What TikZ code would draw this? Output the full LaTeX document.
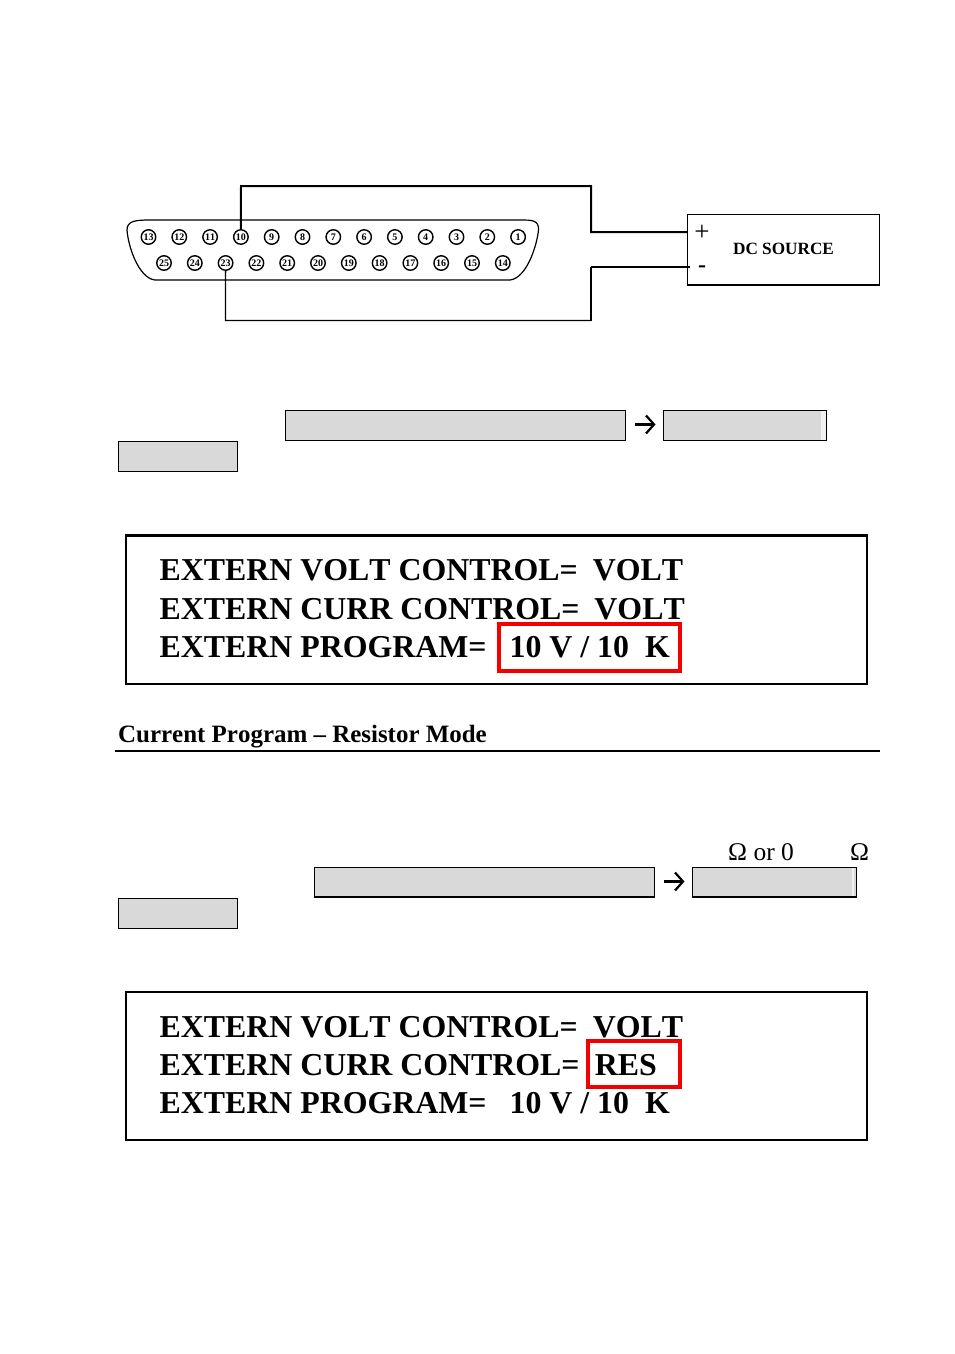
\documentclass[tikz,border=0pt]{standalone}
\usepackage{fontspec}
\setmainfont[Kerning=Off]{Liberation Serif}
\usetikzlibrary{arrows.meta,calc}
\tikzset{
  x=1pt,y=-1pt,
  pin/.style={circle,draw=black,line width=1.4pt,minimum size=14.5pt,inner sep=0pt,font=\bfseries\fontsize{10}{10}\selectfont},
  wirethick/.style={line width=2pt,black},
  wirethin/.style={line width=1.3pt,black},
  graybox/.style={draw=black,line width=1.2pt,fill=grayfill,anchor=north west,inner sep=0pt,outer sep=0pt},
  dispbox/.style={draw=black,line width=1.8pt,anchor=north west,inner sep=0pt,outer sep=0pt,minimum width=741pt,minimum height=149pt},
  disptext/.style={anchor=base west,inner sep=0pt,font=\bfseries\fontsize{31.85}{31.85}\selectfont},
  redbox/.style={draw=redframe,line width=4.2pt,anchor=north west,inner sep=0pt,outer sep=0pt},
  stripe/.style={fill=stripefill,draw=none},
  flowarrow/.style={line width=2.2pt,-{Straight Barb[length=8pt,width=18pt,line width=2.2pt]}}
}
\definecolor{grayfill}{HTML}{D9D9D9}
\definecolor{stripefill}{HTML}{F0F0F0}
\definecolor{redframe}{HTML}{F40000}
\begin{document}
\begin{tikzpicture}
\useasboundingbox (0,0) rectangle (954,1354);
\fill[white] (0,0) rectangle (954,1354);
% connector shell
\draw[line width=1.2pt,line join=round]
  (150,220) -- (520,220)
  .. controls (532,220) and (539,220) .. (538.5,230)
  .. controls (537,245) and (527,278) .. (510,280)
  -- (155,280)
  .. controls (138,278) and (128,245) .. (127,230)
  .. controls (127,221) and (135,220) .. (150,220) -- cycle;
% pins
\foreach \n [count=\i from 0] in {13,12,...,1}
  \node[pin,fill=white] (p\n) at ({148.5+30.8*\i},237) {\n};
\foreach \n [count=\i from 0] in {25,24,...,14}
  \node[pin,fill=white] (p\n) at ({164+30.8*\i},263) {\n};
% source
\node[draw=black,line width=1.2pt,anchor=north west,inner sep=0pt,outer sep=0pt,minimum width=192pt,minimum height=70.5pt] (src) at (687.5,214.5) {};
\draw[black,line width=1.2pt] (687,285) -- (880,285);
\node[anchor=center,inner sep=0pt,font=\bfseries\fontsize{17.2}{17.2}\selectfont] (srclabel) at (783.5,249) {DC SOURCE};
\node[anchor=center,inner sep=0pt,font=\fontsize{27}{27}\selectfont] (plus) at (702,232.5) {+};
\node[anchor=center,inner sep=0pt,font=\bfseries\fontsize{24}{24}\selectfont] (minus) at (702,269) {-};
% wires
\coordinate (a1) at (241,186);
\coordinate (a2) at (591,186);
\coordinate (a3) at (591,232);
\coordinate (a4) at (687.5,232);
\draw[wirethick,line join=miter] (p10.north) -- (a1) -- (a2) -- (a3) -- (a4);
\coordinate (b1) at (225.5,320.5);
\coordinate (b2) at (591,320.5);
\coordinate (b3) at (591,267);
\coordinate (b4) at (690,267);
\draw[wirethin,line join=miter] (p23.south) -- (b1) -- (b2);
\draw[wirethick,line join=miter] (b2) -- (b3);
\draw[wirethin] (b3) -- (b4);
% upper gray boxes
\node[graybox,minimum width=340pt,minimum height=30pt] (g1) at (285.5,410.5) {};
\node[graybox,minimum width=163pt,minimum height=30pt] (g2) at (663.5,410.5) {};
\fill[stripe] (820.5,411) rectangle (825.5,440);
\node[graybox,minimum width=119pt,minimum height=30pt] (g3) at (118.5,441.5) {};
\draw[flowarrow] ($(g1.east)+(9,-1)$) -- ($(g2.west)+(-8,-1)$);
% display 1
\node[dispbox] (d1) at (126,535) {};
\draw[black,line width=2.4pt] (125.5,535.5) -- (867.5,535.5);
\node[disptext] (d1a) at (159.5,580) {EXTERN VOLT CONTROL=\hspace{15pt}VOLT};
\node[disptext] (d1b) at (159.5,619) {EXTERN CURR CONTROL=\hspace{15pt}VOLT};
\node[disptext] (d1c) at (159.5,657) {EXTERN PROGRAM=\hspace{23pt}10 V / 10\hspace{16pt}K};
\node[redbox,minimum width=181pt,minimum height=47pt] (r1) at (499,624) {};
% section heading
\node[anchor=base west,inner sep=0pt,font=\bfseries\fontsize{24.95}{24.95}\selectfont] (head) at (118,742) {Current Program – Resistor Mode};
\coordinate (ruleL) at (115,751);
\coordinate (ruleR) at (880,751);
\draw[black,line width=1.6pt] (ruleL) -- (ruleR);
% omega labels
\node[anchor=base west,inner sep=0pt,font=\fontsize{25.5}{25.5}\selectfont] (om1) at (728,860) {Ω or 0};
\node[anchor=base west,inner sep=0pt,font=\fontsize{25.5}{25.5}\selectfont] (om2) at (850,860) {Ω};
% lower gray boxes
\node[graybox,minimum width=340pt,minimum height=30pt] (g4) at (314.5,867.5) {};
\node[graybox,minimum width=164pt,minimum height=30pt] (g5) at (692.5,867.5) {};
\fill[stripe] (851.5,868) rectangle (854,896);
\draw[black,line width=2pt] (314,897) -- (655,897);
\draw[black,line width=2pt] (692,897) -- (857,897);
\node[graybox,minimum width=119pt,minimum height=30pt] (g6) at (118.5,898.5) {};
\draw[flowarrow] ($(g4.east)+(9,-1)$) -- ($(g5.west)+(-8,-1)$);
% display 2
\node[dispbox] (d2) at (126,991.5) {};
\draw[black,line width=2.4pt] (125.5,992) -- (867.5,992);
\draw[black,line width=2.4pt] (125.5,1140) -- (867.5,1140);
\node[disptext] (d2a) at (159.5,1037) {EXTERN VOLT CONTROL=\hspace{15pt}VOLT};
\node[disptext] (d2b) at (159.5,1075) {EXTERN CURR CONTROL=\hspace{15.5pt}RES};
\node[disptext] (d2c) at (159.5,1113) {EXTERN PROGRAM=\hspace{23pt}10 V / 10\hspace{16pt}K};
\node[redbox,minimum width=92pt,minimum height=46pt] (r2) at (588,1041) {};
\end{tikzpicture}
\end{document}
